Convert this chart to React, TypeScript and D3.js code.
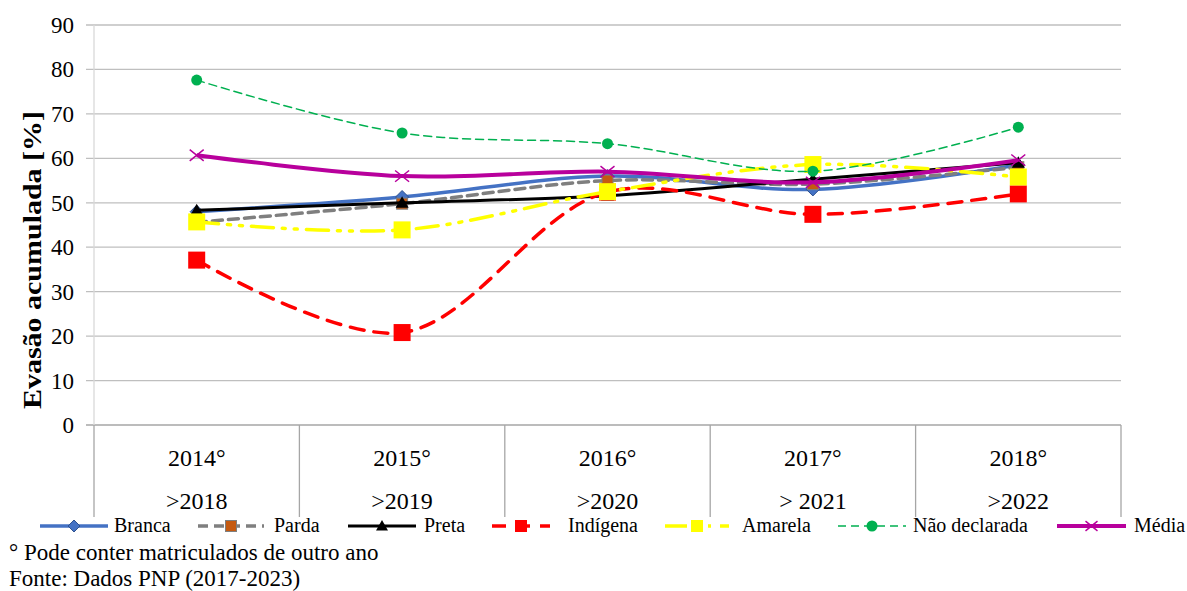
import React from "react";
import * as d3 from "d3";

const categories = ["2014°|>2018", "2015°|>2019", "2016°|>2020", "2017°|> 2021", "2018°|>2022"];
const yTicks = [0, 10, 20, 30, 40, 50, 60, 70, 80, 90];

const branca = [48.0, 51.3, 56.0, 53.0, 58.5];
const parda = [45.6, 49.8, 55.0, 54.2, 58.0];
const preta = [48.3, 50.0, 51.6, 55.3, 59.0];
const indigena = [37.1, 20.8, 52.4, 47.4, 52.0];
const amarela = [45.7, 43.9, 52.5, 58.6, 55.8];
const naoDeclarada = [77.6, 65.7, 63.3, 57.1, 67.0];
const media = [60.7, 56.0, 57.0, 54.6, 59.6];

type Series = {
  name: string;
  values: number[];
  color: string;
  width: number;
  dash?: string;
  marker: "diamond" | "square" | "triangle" | "circle" | "x";
  mSize: number;
  mFill: string;
  mStroke?: string;
  legendX: number;
  legendW: number;
  textX: number;
};

const series: Series[] = [
  { name: "Branca", values: branca, color: "#4472C4", width: 3.5, marker: "diamond", mSize: 13, mFill: "#4472C4", mStroke: "#2F528F", legendX: 40, legendW: 68, textX: 114 },
  { name: "Parda", values: parda, color: "#7F7F7F", width: 3.5, dash: "10,6", marker: "square", mSize: 11, mFill: "#C55A11", mStroke: "#7F7F7F", legendX: 198, legendW: 66, textX: 274 },
  { name: "Preta", values: preta, color: "#000000", width: 3, marker: "triangle", mSize: 13, mFill: "#000000", legendX: 348, legendW: 68, textX: 424 },
  { name: "Indígena", values: indigena, color: "#FF0000", width: 3.5, dash: "14,10", marker: "square", mSize: 17, mFill: "#FF0000", legendX: 492, legendW: 58, textX: 568 },
  { name: "Amarela", values: amarela, color: "#FFFF00", width: 3.5, dash: "22,9,3,9,3,9", marker: "square", mSize: 17, mFill: "#FFFF00", legendX: 665, legendW: 64, textX: 742 },
  { name: "Não declarada", values: naoDeclarada, color: "#00B050", width: 1.5, dash: "8,5", marker: "circle", mSize: 11, mFill: "#00B050", legendX: 838, legendW: 68, textX: 913 },
  { name: "Média", values: media, color: "#B8009C", width: 4, marker: "x", mSize: 14, mFill: "none", legendX: 1057, legendW: 69, textX: 1134 },
];

const FONT = "Liberation Serif, DejaVu Serif, serif";

function Marker({ s, cx, cy }: { s: Series; cx: number; cy: number }) {
  const m = s.mSize;
  const h = m / 2;
  switch (s.marker) {
    case "diamond":
      return <path d={`M${cx},${cy - h} L${cx + h},${cy} L${cx},${cy + h} L${cx - h},${cy} Z`} fill={s.mFill} stroke={s.mStroke} strokeWidth={1} />;
    case "square":
      return <rect x={cx - h} y={cy - h} width={m} height={m} fill={s.mFill} stroke={s.mStroke} strokeWidth={s.mStroke ? 1 : 0} />;
    case "triangle":
      return <path d={`M${cx},${cy - h} L${cx + h},${cy + h * 0.75} L${cx - h},${cy + h * 0.75} Z`} fill={s.mFill} />;
    case "circle":
      return <circle cx={cx} cy={cy} r={h} fill={s.mFill} />;
    case "x":
      return (
        <path d={`M${cx - h},${cy - h * 0.8} L${cx + h},${cy + h * 0.8} M${cx - h},${cy + h * 0.8} L${cx + h},${cy - h * 0.8}`} stroke={s.color} strokeWidth={1.5} fill="none" />
      );
  }
}

export default function App() {
  const W = 1187;
  const H = 591;
  const left = 94;
  const right = 1121;
  const top = 25;
  const bottom = 425;

  const x = d3.scaleBand<string>().domain(categories).range([left, right]);
  const y = d3.scaleLinear().domain([0, 90]).range([bottom, top]);
  const cx = (i: number) => (x(categories[i]) as number) + x.bandwidth() / 2;

  const line = d3
    .line<number>()
    .x((_, i) => cx(i))
    .y((v) => y(v))
    .curve(d3.curveCatmullRom.alpha(0.5));

  const boundaries = categories.map((c) => x(c) as number).concat([right]);
  const legendY = 526;

  return (
    <svg width={W} height={H} style={{ position: "absolute", left: 0, top: 0, fontFamily: FONT }}>
      <rect width={W} height={H} fill="#fff" />
      {yTicks.map((t) => (
        <g key={t}>
          <line x1={left - 8} x2={right} y1={y(t)} y2={y(t)} stroke={t === 0 ? "#A6A6A6" : "#BFBFBF"} strokeWidth={1.3} />
          <text x={74} y={y(t) + 8} textAnchor="end" fontSize={23} fill="#000">
            {t}
          </text>
        </g>
      ))}
      <line x1={left} x2={left} y1={top} y2={bottom} stroke="#D9D9D9" strokeWidth={1.3} />
      {boundaries.map((b, i) => (
        <line key={i} x1={b} x2={b} y1={bottom} y2={517} stroke="#A6A6A6" strokeWidth={1.3} />
      ))}
      {categories.map((c, i) => {
        const [a, b] = c.split("|");
        return (
          <g key={c}>
            <text x={cx(i)} y={466} textAnchor="middle" fontSize={24}>
              {a}
            </text>
            <text x={cx(i)} y={509} textAnchor="middle" fontSize={24}>
              {b}
            </text>
          </g>
        );
      })}
      <text
        transform={`translate(41,260) rotate(-90)`}
        textAnchor="middle"
        fontSize={26}
        fontWeight="bold"
        textLength={298}
        lengthAdjust="spacingAndGlyphs"
      >
        Evasão acumulada [%]
      </text>
      {series.map((s) => (
        <g key={s.name}>
          <path d={line(s.values) as string} fill="none" stroke={s.color} strokeWidth={s.width} strokeDasharray={s.dash} strokeLinecap={s.dash ? "round" : "butt"} />
          {s.values.map((v, i) => (
            <Marker key={i} s={s} cx={cx(i)} cy={y(v)} />
          ))}
        </g>
      ))}
      {series.map((s) => (
        <g key={"lg" + s.name}>
          <line x1={s.legendX} x2={s.legendX + s.legendW} y1={legendY} y2={legendY} stroke={s.color} strokeWidth={s.width} strokeDasharray={s.dash} />
          <Marker s={{ ...s, mSize: Math.min(s.mSize, 12) }} cx={s.legendX + s.legendW / 2} cy={legendY} />
          <text x={s.textX} y={legendY + 6} fontSize={20}>
            {s.name}
          </text>
        </g>
      ))}
      <text x={9} y={560} fontSize={23}>
        ° Pode conter matriculados de outro ano
      </text>
      <text x={9} y={586} fontSize={23}>
        Fonte: Dados PNP (2017-2023)
      </text>
    </svg>
  );
}
